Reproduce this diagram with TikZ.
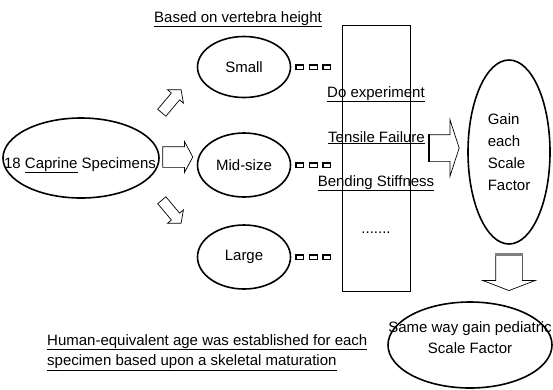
\documentclass[tikz,border=0pt]{standalone}
\usepackage{fontspec}
\setmainfont{Liberation Sans}
\usetikzlibrary{shapes.geometric,shapes.arrows}
\begin{document}
\begin{tikzpicture}[x=1pt,y=-1pt,
  every node/.style={font=\fontsize{15}{22}\selectfont},
  oval/.style={ellipse, draw, line width=1.6pt, inner sep=0pt},
  lbl/.style={inner sep=0pt},
  openarrow/.style={single arrow, draw, line width=0.7pt, inner xsep=0pt,
    single arrow head indent=0pt},
  boxlink/.style={line width=5.5pt, dash pattern=on 9pt off 4.5pt,
    shorten <=4pt, shorten >=9pt},
  boxhole/.style={white, line width=3pt, dash pattern=on 6.6pt off 6.9pt,
    dash phase=12.3pt, shorten <=4pt, shorten >=9pt}
]
\useasboundingbox (0,0) rectangle (553,389);

% title
\node[lbl, anchor=base] (title) at (238,22) {\underline{Based on vertebra height}};

% source ellipse
\node[oval, minimum width=156, minimum height=80] (spec) at (81,158) {};
\node[lbl, anchor=base] (spectext) at (80,168) {18 \underline{Caprine} Specimens};

% size groups
\node[oval, minimum width=93, minimum height=61] (small) at (244,67) {Small};
\node[oval, minimum width=93, minimum height=64] (mid) at (244,165) {Mid-size};
\node[oval, minimum width=93, minimum height=64] (large) at (244,257) {Large};

% open arrows from specimens
\node[openarrow, inner ysep=5pt, minimum height=30, single arrow head extend=5,
  single arrow tip angle=100, rotate=50] (aup) at (170,103) {};
\node[openarrow, inner ysep=10pt, minimum height=30, single arrow head extend=5,
  single arrow tip angle=124] (amid) at (175,157) {};
\node[openarrow, inner ysep=5pt, minimum height=30, single arrow head extend=5,
  single arrow tip angle=100, rotate=-50] (adown) at (170,210) {};

% experiment box
\node[draw, line width=0.8pt, minimum width=68, minimum height=266, inner sep=0pt]
  (box) at (376,158) {};

% hollow-square connectors
\foreach \s in {small,mid,large}{
  \draw[boxlink] (\s.east) -- (\s.east -| box.west);
  \draw[boxhole] (\s.east) -- (\s.east -| box.west);
}

% texts in the box
\node[lbl, anchor=base] (doexp) at (376,97) {\underline{Do experiment}};
\node[lbl, anchor=base] (tensile) at (376.5,142) {\underline{Tensile Failure}};
\node[lbl, anchor=base] (bending) at (376,186) {\underline{Bending Stiffness}};
\node[lbl, anchor=base] (dots) at (376,233) {.......};

% arrow to gain
\node[openarrow, inner ysep=13pt, minimum height=30, single arrow head extend=15,
  single arrow tip angle=144] (garr) at (442,148) {};
\draw[line width=2.5pt] (garr.before tail) -- (garr.after tail);

% gain ellipse
\node[oval, minimum width=82, minimum height=184, align=left] (gain) at (509,152)
  {Gain\\each\\Scale\\Factor};

% arrow down
\node[openarrow, inner ysep=13pt, minimum height=36, single arrow head extend=13,
  single arrow tip angle=138, rotate=-90] (darr) at (509,270) {};
\draw[line width=3pt, gray] (darr.before tail) -- (darr.after tail);

% final ellipse
\node[oval, minimum width=164, minimum height=86] (same) at (470,345) {};
\node[lbl, anchor=north, align=center, font=\fontsize{15}{21}\selectfont]
  (sametext) at (470,321) {Same way gain pediatric\\Scale Factor};

% note
\node[lbl, anchor=north west, align=left, font=\fontsize{15}{20.5}\selectfont]
  (note) at (47,334)
  {\underline{Human-equivalent age was established for each}\\
   \underline{specimen based upon a skeletal maturation}};
\end{tikzpicture}
\end{document}
